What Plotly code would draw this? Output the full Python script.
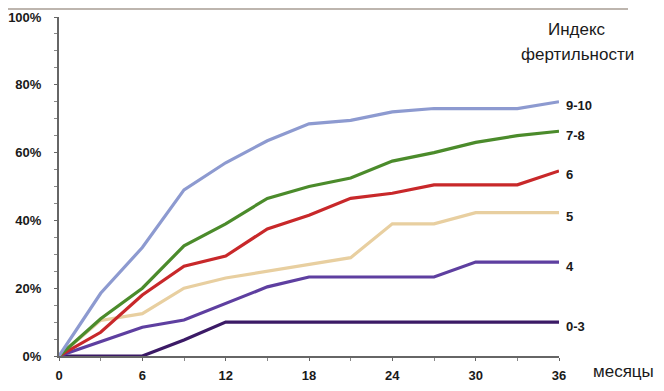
import plotly.graph_objects as go

months = [0, 3, 6, 9, 12, 15, 18, 21, 24, 27, 30, 33, 36]
labels = ["9-10", "7-8", "6", "5", "4", "0-3"]
s_9_10 = [0, 18.5, 32, 49, 57, 63.5, 68.5, 69.5, 72, 73, 73, 73, 75]
s_7_8 = [0, 11, 20, 32.5, 39, 46.5, 50, 52.5, 57.5, 60, 63, 65, 66.3]
s_6 = [0, 7, 18, 26.5, 29.5, 37.5, 41.5, 46.5, 48, 50.5, 50.5, 50.5, 54.6]
s_5 = [0, 10.5, 12.5, 20, 23, 25, 27, 29, 39, 39, 42.3, 42.3, 42.3]
s_4 = [0, 4.2, 8.5, 10.6, 15.5, 20.4, 23.3, 23.3, 23.3, 23.3, 27.7, 27.7, 27.7]
s_0_3 = [0, 0, 0, 4.7, 10, 10, 10, 10, 10, 10, 10, 10, 10]
series = [s_9_10, s_7_8, s_6, s_5, s_4, s_0_3]
colors = ["#8D9AD0", "#4B8B2B", "#C8282A", "#E8CFA0", "#5E3FA0", "#3B1A66"]
y_ticks = [0, 20, 40, 60, 80, 100]
x_ticks = [0, 6, 12, 18, 24, 30, 36]
title_lines = ["Индекс", "фертильности"]

fig = go.Figure()
for name, vals, col in reversed(list(zip(labels, series, colors))):
    fig.add_trace(go.Scatter(x=months, y=vals, mode="lines", name=name,
                             line=dict(color=col, width=3.2), showlegend=False))
    fig.add_annotation(x=months[-1], y=vals[-1], text="<b>%s</b>" % name,
                       xref="x", yref="y", xanchor="left", yanchor="middle",
                       xshift=5, yshift=-4, showarrow=False,
                       font=dict(family="Liberation Sans", size=13, color="#1a1a1a"))

for txt, yy in zip(title_lines, [0.9617, 0.888]):
    fig.add_annotation(x=1.036, y=yy, xref="paper", yref="paper",
                       text=txt, showarrow=False,
                       xanchor="center", yanchor="middle", align="center",
                       font=dict(family="Liberation Sans", size=17, color="#1a1a1a"))
fig.add_annotation(x=1.064, y=-0.047, xref="paper", yref="paper",
                   text="месяцы", showarrow=False, xanchor="left", yanchor="middle",
                   font=dict(family="Liberation Sans", size=17, color="#1a1a1a"))
fig.add_shape(type="line", xref="paper", yref="paper",
              x0=-0.118, x1=1.138, y0=1.0236, y1=1.0236,
              line=dict(color="#BDB5AE", width=2))

fig.update_xaxes(range=[0, 36], tickvals=x_ticks, ticktext=["<b>%d</b>" % v for v in x_ticks],
                 showgrid=False, zeroline=False, showline=True, linecolor="#666666", linewidth=2,
                 ticks="outside", ticklen=3, tickcolor="#666666", ticklabelstandoff=3,
                 automargin=False,
                 minor=dict(dtick=3, ticks="outside", ticklen=3, tickcolor="#888888"),
                 tickfont=dict(family="Liberation Sans", size=13, color="#1a1a1a"))
fig.update_yaxes(range=[0, 100], tickvals=y_ticks, ticktext=["<b>%d%%</b>" % v for v in y_ticks],
                 showgrid=False, zeroline=False, showline=True, linecolor="#666666", linewidth=2,
                 ticks="outside", ticklen=3, tickcolor="#666666", ticklabelstandoff=10,
                 automargin=False,
                 minor=dict(dtick=5, ticks="outside", ticklen=3, tickcolor="#888888"),
                 tickfont=dict(family="Liberation Sans", size=13, color="#1a1a1a"))

fig.update_layout(width=648, height=375, margin=dict(l=51, r=97, t=9, b=27),
                  plot_bgcolor="white", paper_bgcolor="white")
fig.write_html("out.html")
